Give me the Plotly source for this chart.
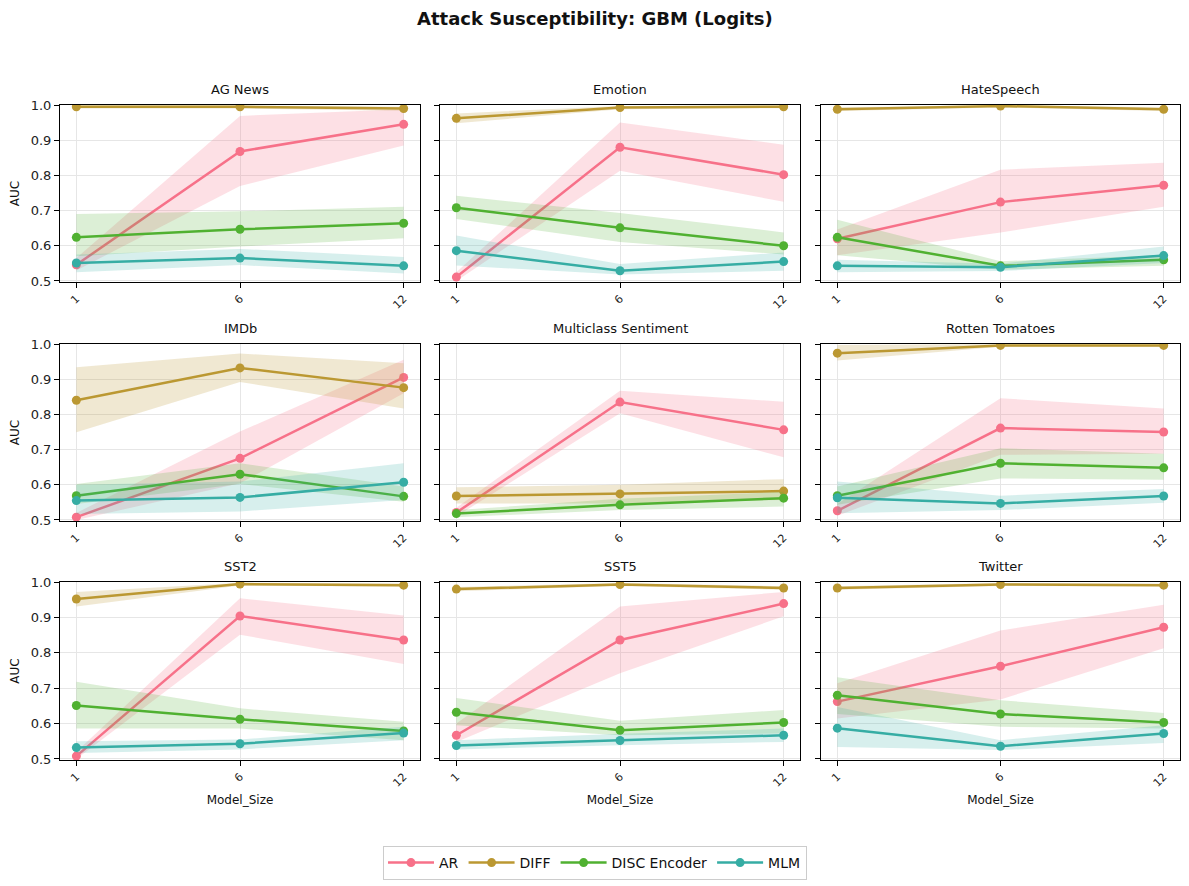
import plotly.graph_objects as go

datasets = ["AG News", "Emotion", "HateSpeech", "IMDb", "Multiclass Sentiment",
            "Rotten Tomatoes", "SST2", "SST5", "Twitter"]
model_sizes = ["1", "6", "12"]
models = ["AR", "DIFF", "DISC Encoder", "MLM"]

AR_mean = [[0.546, 0.868, 0.945], [0.511, 0.880, 0.802], [0.620, 0.724, 0.772],
           [0.508, 0.675, 0.905], [0.521, 0.835, 0.756], [0.526, 0.761, 0.750],
           [0.508, 0.904, 0.836], [0.567, 0.836, 0.939], [0.662, 0.762, 0.872]]
AR_lo = [[0.530, 0.770, 0.885], [0.500, 0.813, 0.725], [0.573, 0.638, 0.711],
         [0.500, 0.604, 0.860], [0.510, 0.803, 0.678], [0.512, 0.685, 0.688],
         [0.500, 0.851, 0.768], [0.548, 0.742, 0.903], [0.614, 0.668, 0.813]]
AR_hi = [[0.565, 0.969, 0.988], [0.525, 0.950, 0.887], [0.646, 0.816, 0.836],
         [0.520, 0.751, 0.955], [0.535, 0.867, 0.836], [0.545, 0.846, 0.817],
         [0.520, 0.954, 0.905], [0.600, 0.931, 0.972], [0.714, 0.863, 0.936]]

DIFF_mean = [[0.995, 0.995, 0.990], [0.962, 0.993, 0.995], [0.988, 0.997, 0.988],
             [0.840, 0.932, 0.876], [0.568, 0.574, 0.582], [0.974, 0.996, 0.996],
             [0.952, 0.994, 0.991], [0.980, 0.993, 0.983], [0.983, 0.993, 0.991]]
DIFF_lo = [[0.990, 0.990, 0.984], [0.948, 0.988, 0.991], [0.983, 0.993, 0.983],
           [0.749, 0.892, 0.817], [0.547, 0.547, 0.557], [0.953, 0.992, 0.992],
           [0.931, 0.990, 0.987], [0.974, 0.989, 0.978], [0.978, 0.989, 0.987]]
DIFF_hi = [[0.999, 0.999, 0.995], [0.976, 0.997, 0.999], [0.993, 1.000, 0.993],
           [0.934, 0.973, 0.945], [0.593, 0.600, 0.616], [0.997, 1.000, 1.000],
           [0.972, 0.998, 0.996], [0.986, 0.997, 0.988], [0.988, 0.997, 0.995]]

DISC_mean = [[0.624, 0.647, 0.664], [0.708, 0.651, 0.600], [0.624, 0.543, 0.560],
             [0.569, 0.630, 0.567], [0.518, 0.543, 0.562], [0.569, 0.661, 0.648],
             [0.651, 0.612, 0.579], [0.632, 0.581, 0.603], [0.680, 0.627, 0.603]]
DISC_lo = [[0.570, 0.598, 0.621], [0.676, 0.611, 0.575], [0.573, 0.532, 0.543],
           [0.545, 0.602, 0.552], [0.508, 0.528, 0.538], [0.543, 0.618, 0.614],
           [0.586, 0.586, 0.553], [0.595, 0.567, 0.572], [0.627, 0.591, 0.586]]
DISC_hi = [[0.690, 0.698, 0.711], [0.742, 0.693, 0.638], [0.674, 0.556, 0.573],
           [0.602, 0.661, 0.595], [0.528, 0.560, 0.580], [0.595, 0.704, 0.688],
           [0.718, 0.643, 0.605], [0.672, 0.608, 0.638], [0.731, 0.666, 0.630]]

MLM_mean = [[0.551, 0.565, 0.543], [0.586, 0.529, 0.555], [0.543, 0.539, 0.572],
            [0.555, 0.564, 0.607], None, [0.563, 0.547, 0.568],
            [0.532, 0.543, 0.573], [0.538, 0.552, 0.567], [0.587, 0.536, 0.572]]
MLM_lo = [[0.525, 0.545, 0.521], [0.544, 0.518, 0.529], [0.525, 0.528, 0.551],
          [0.517, 0.524, 0.557], None, [0.519, 0.528, 0.549],
          [0.517, 0.527, 0.553], [0.527, 0.539, 0.548], [0.534, 0.525, 0.545]]
MLM_hi = [[0.575, 0.591, 0.568], [0.629, 0.548, 0.581], [0.560, 0.549, 0.598],
          [0.600, 0.609, 0.661], None, [0.609, 0.569, 0.588],
          [0.550, 0.555, 0.591], [0.553, 0.571, 0.586], [0.647, 0.553, 0.595]]

series = {
    "AR": (AR_mean, AR_lo, AR_hi),
    "DIFF": (DIFF_mean, DIFF_lo, DIFF_hi),
    "DISC Encoder": (DISC_mean, DISC_lo, DISC_hi),
    "MLM": (MLM_mean, MLM_lo, MLM_hi),
}
colors = {"AR": "#f77189", "DIFF": "#bb9832", "DISC Encoder": "#50b131", "MLM": "#36ada4"}
fills = {"AR": "rgba(247,113,137,0.22)", "DIFF": "rgba(187,152,50,0.22)",
         "DISC Encoder": "rgba(80,177,49,0.2)", "MLM": "rgba(54,173,164,0.2)"}

W, H = 1189, 886
OFF = 8  # page body margin offset
col_px = [(60, 420), (440, 800), (821, 1180)]
row_px = [(105, 282), (344, 521), (582, 760)]


def fx(p):
    return (p - OFF) / W


def fy(p):
    return 1 - (p - OFF) / H


fig = go.Figure()
layout = {}
annotations = []
FONT = "DejaVu Sans"

for i, ds in enumerate(datasets):
    r, c = divmod(i, 3)
    n = i + 1
    xa = "xaxis" if n == 1 else f"xaxis{n}"
    ya = "yaxis" if n == 1 else f"yaxis{n}"
    xref = "x" if n == 1 else f"x{n}"
    yref = "y" if n == 1 else f"y{n}"
    x0, x1 = col_px[c]
    y0, y1 = row_px[r]
    layout[xa] = dict(
        domain=[fx(x0), fx(x1)], anchor=yref, type="category",
        categoryorder="array", categoryarray=model_sizes, automargin=False,
        range=[-0.1, 2.1], showline=True, mirror=True, linecolor="black", linewidth=1,
        ticks="outside", ticklen=5, tickcolor="black", tickangle=-45,
        tickfont=dict(size=11, color="#222", family=FONT),
        showgrid=True, gridcolor="#e6e6e6", gridwidth=1, zeroline=False,
        title=dict(text="Model_Size" if r == 2 else "", font=dict(size=12, family=FONT, color="#111"), standoff=6),
    )
    layout[ya] = dict(
        domain=[fy(y1), fy(y0)], anchor=xref, automargin=False,
        range=[0.497, 1.0], tickvals=[0.5, 0.6, 0.7, 0.8, 0.9, 1.0],
        ticktext=["0.5", "0.6", "0.7", "0.8", "0.9", "1.0"],
        showticklabels=(c == 0),
        showline=True, mirror=True, linecolor="black", linewidth=1,
        ticks="outside", ticklen=5, tickcolor="black",
        tickfont=dict(size=13, color="#222", family=FONT),
        showgrid=True, gridcolor="#e6e6e6", gridwidth=1, zeroline=False,
        title=dict(text="AUC" if c == 0 else "", font=dict(size=12, family=FONT, color="#111"), standoff=8),
    )
    annotations.append(dict(
        text=ds, x=fx((x0 + x1) / 2), y=fy(y0 - 6), xref="paper", yref="paper",
        xanchor="center", yanchor="bottom", showarrow=False,
        font=dict(size=13, family=FONT, color="#111")))

    for m in models:
        mean, lo, hi = series[m]
        if mean[i] is None:
            continue
        fig.add_trace(go.Scatter(
            x=model_sizes + model_sizes[::-1], y=hi[i] + lo[i][::-1],
            fill="toself", fillcolor=fills[m], line=dict(width=0),
            mode="lines", hoverinfo="skip", showlegend=False, xaxis=xref, yaxis=yref))
        fig.add_trace(go.Scatter(
            x=model_sizes, y=mean[i], mode="lines+markers", name=m,
            line=dict(color=colors[m], width=2.5), marker=dict(color=colors[m], size=9),
            showlegend=(i == 0), legendgroup=m, xaxis=xref, yaxis=yref))

annotations.append(dict(
    text="<b>Attack Susceptibility: GBM (Logits)</b>", x=fx(594.5), y=fy(18),
    xref="paper", yref="paper", xanchor="center", yanchor="middle", showarrow=False,
    font=dict(size=18, family=FONT, color="#111")))

fig.update_layout(
    width=W, height=H, margin=dict(l=0, r=0, t=0, b=0, autoexpand=False),
    paper_bgcolor="white", plot_bgcolor="white",
    font=dict(family=FONT),
    annotations=annotations,
    legend=dict(orientation="h", x=fx(595), xanchor="center", y=fy(863), yanchor="middle",
                bordercolor="#cccccc", borderwidth=1, bgcolor="white",
                font=dict(size=14, family=FONT, color="#111"), itemwidth=46,
                tracegroupgap=0),
    showlegend=True,
    **layout,
)

fig.write_html("out.html")
